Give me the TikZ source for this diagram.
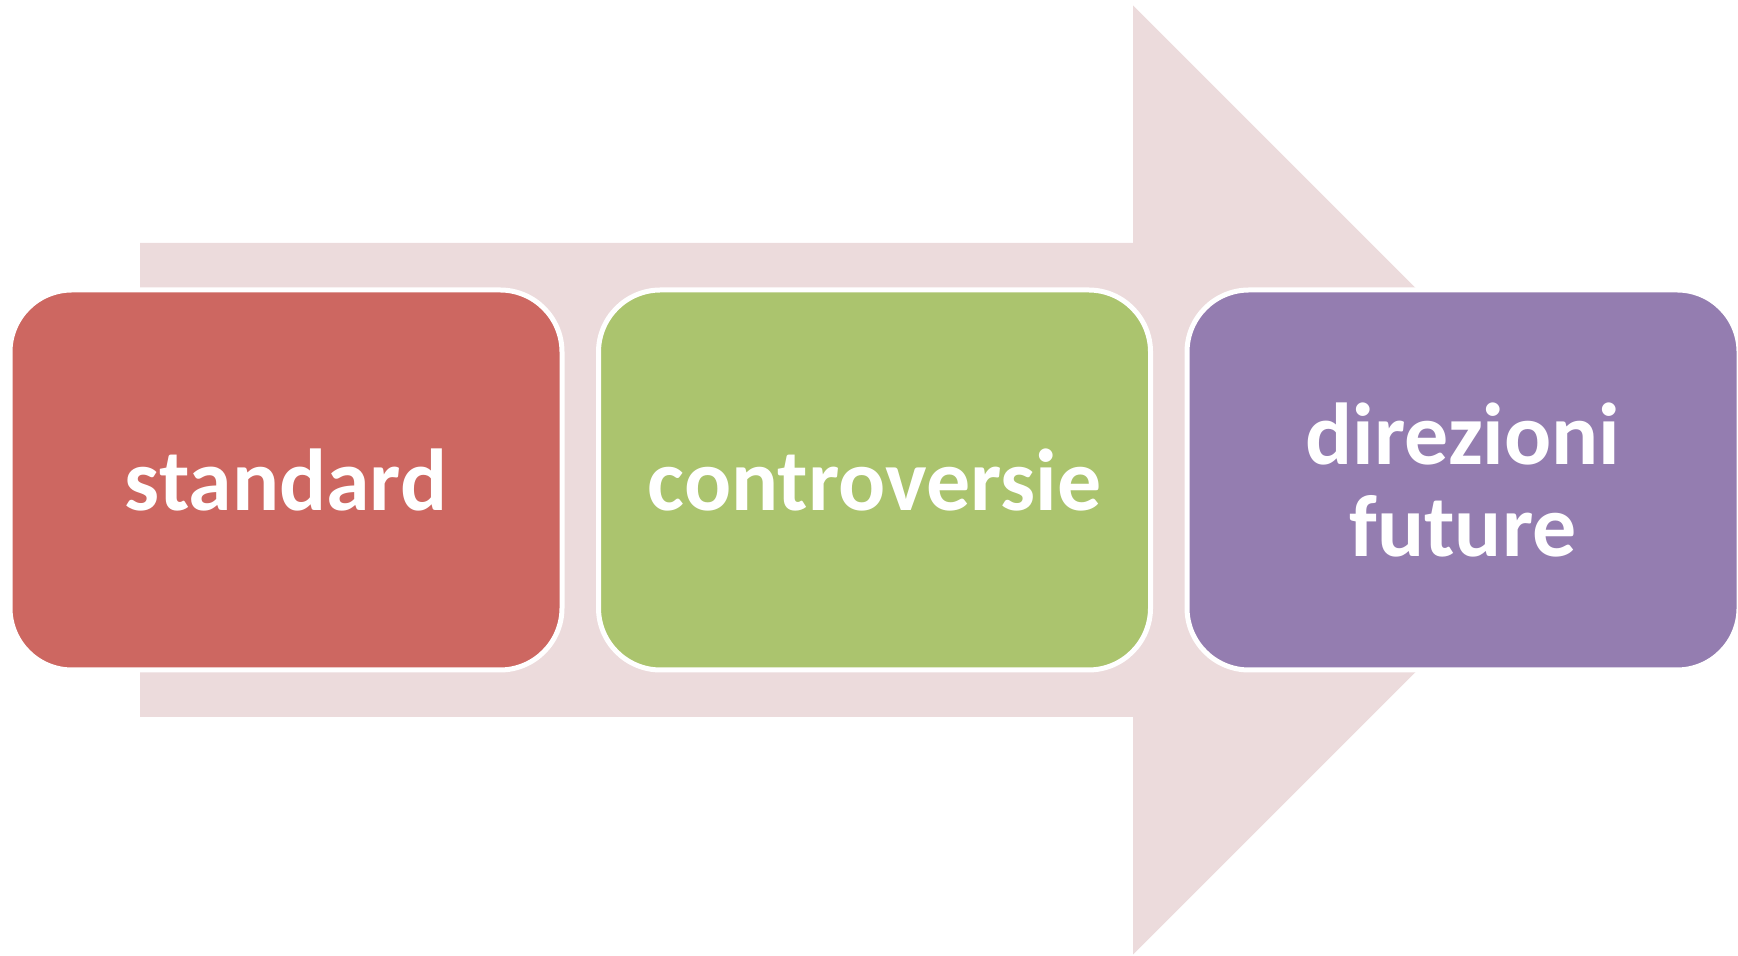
\documentclass[tikz,border=0pt]{standalone}
\usepackage{fontspec}
\setmainfont{Carlito}
\usepackage{tikz}
\usetikzlibrary{positioning}
\definecolor{arrowpink}{RGB}{236,219,220}
\definecolor{stdred}{RGB}{205,103,97}
\definecolor{contgreen}{RGB}{171,196,110}
\definecolor{futpurple}{RGB}{148,125,176}

\begin{document}
\begin{tikzpicture}[ node distance=0.315cm,
    stage/.style= {
        draw=white,
        line width=0.05cm,
        rounded corners=0.62cm,
        minimum width=5.52cm,
        minimum height=3.8cm,
        inner sep=0pt,
        text=white,
        align=center,
        font=\fontsize{25pt}{26.2pt}\selectfont\bfseries
    } ]
    \useasboundingbox (0,0) rectangle (17.38,9.56);
    % big arrow behind the boxes
    \fill [arrowpink] (1.40,7.13) -- (11.33,7.13) -- (11.33,9.505)
        -- (16.075,4.76) -- (11.33,0.015) -- (11.33,2.39) -- (1.40,2.39) -- cycle;
    \node (standard) [stage, fill=stdred] at (2.86,4.76) {standard};
    \node (controversie) [stage, fill=contgreen, right=of standard] {controversie};
    \node (direzioni) [stage, fill=futpurple, right=of controversie] {direzioni\\future};
\end{tikzpicture}
\end{document}
